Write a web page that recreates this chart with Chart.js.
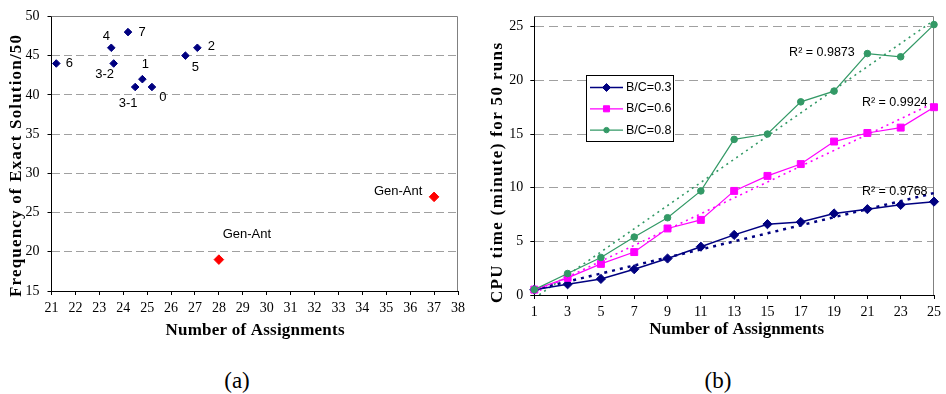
<!DOCTYPE html>
<html><head><meta charset="utf-8">
<script src="https://cdn.jsdelivr.net/npm/chart.js@4/dist/chart.umd.min.js"></script>
<style>
html,body{margin:0;padding:0;background:#fff;width:946px;height:394px;overflow:hidden}
#wa{position:absolute;left:0;top:0;width:470px;height:350px}
#wb{position:absolute;left:470px;top:0;width:476px;height:350px}
.cap{position:absolute;top:366px;font-family:"Liberation Serif","Times New Roman",serif;font-size:23px;line-height:30px;width:60px;text-align:center;color:#000}
</style></head><body>
<div id="wa"><canvas id="ca" width="470" height="350"></canvas></div>
<div id="wb"><canvas id="cb" width="476" height="350"></canvas></div>
<div class="cap" style="left:207px">(a)</div>
<div class="cap" style="left:688px">(b)</div>
<script>
// ---------- DATA: chart (a) ----------
const aNames  = ['0', '1', '2', '3-1', '3-2', '4', '5', '6', '7'];
const aAssign = [25.2, 24.8, 27.1, 24.5, 23.6, 23.5, 26.6, 21.2, 24.2];
const aFreq   = [41, 42, 46, 41, 44, 46, 45, 44, 48];
const genNames  = ['Gen-Ant', 'Gen-Ant'];
const genAssign = [28, 37];
const genFreq   = [19, 27];
const aXTicks = [21,22,23,24,25,26,27,28,29,30,31,32,33,34,35,36,37,38];
const aYTicks = [15,20,25,30,35,40,45,50];
const aXTitle = 'Number of Assignments';
const aYTitle = 'Frequency of Exact Solution/50';

// ---------- DATA: chart (b) ----------
const bX   = [1,3,5,7,9,11,13,15,17,19,21,23,25];
const b03  = [0.5, 1.0, 1.5, 2.4, 3.4, 4.5, 5.6, 6.6, 6.8, 7.6, 8.0, 8.4, 8.7];
const b06  = [0.5, 1.6, 2.9, 4.0, 6.2, 7.0, 9.7, 11.1, 12.2, 14.3, 15.1, 15.6, 17.5];
const b08  = [0.5, 2.0, 3.5, 5.4, 7.2, 9.7, 14.5, 15.0, 18.0, 19.0, 22.5, 22.2, 25.2];
const bTrendX  = [1, 25];
const bTrend03 = [0.5, 9.5];
const bTrend06 = [0.2, 17.9];
const bTrend08 = [-0.3, 25.6];
const bNames = ['B/C=0.3', 'B/C=0.6', 'B/C=0.8'];
const bR2    = ['R\u00B2 = 0.9768', 'R\u00B2 = 0.9924', 'R\u00B2 = 0.9873'];
const bYTicks = [0,5,10,15,20,25];
const bXTitle = 'Number of Assignments';
const bYTitle = 'CPU time (minute) for 50 runs';

// ---------- LAYOUT / STYLE (not data) ----------
const SERIF = '"Liberation Serif","Times New Roman",serif';
const SANS  = '"Liberation Sans",Arial,sans-serif';
const labelOffA = {'0':[11,10],'1':[3,-15],'2':[14,-1],'3-1':[-7,16],'3-2':[-9,11],'4':[-5,-11],'5':[10,12],'6':[13,0],'7':[14,0]};
const genOffA = [[28,-25.5],[-36,-5.5]];
const r2Pos = [{x:20.67,y:9.6},{x:20.67,y:17.94},{x:16.3,y:22.6}];
const colsB = ['#000080', '#ff00ff', '#339966'];
const stylesB = ['rectRot', 'rect', 'circle'];
const radiiB = [4.6, 4.9, 3.3];

function fitText(ctx, text, cx, cy, rot, font, target) {
  ctx.save();
  ctx.font = font;
  ctx.letterSpacing = '0px';
  const w = ctx.measureText(text).width;
  let ls = (target - w) / (text.length - 1);
  if (!(ls > 0)) ls = 0;
  ctx.letterSpacing = ls + 'px';
  ctx.translate(cx, cy);
  ctx.rotate(rot);
  ctx.textAlign = 'center';
  ctx.textBaseline = 'middle';
  ctx.fillStyle = '#000';
  ctx.fillText(text, ls / 2, 0);
  ctx.restore();
}
function plotBorder(chart) {
  const {ctx, chartArea: a} = chart;
  ctx.save();
  ctx.strokeStyle = '#808080';
  ctx.lineWidth = 1;
  ctx.beginPath();
  const t = Math.round(a.top) + 0.5, r = Math.round(a.right) - 0.5;
  ctx.moveTo(a.left, t); ctx.lineTo(r, t); ctx.lineTo(r, a.bottom);
  ctx.stroke();
  ctx.restore();
}
const tickSet = arr => s => { s.ticks = arr.map(v => ({value: v})); };

// ---------- CHART (a) ----------
const plugA = {
  id: 'plugA',
  beforeDatasetsDraw(chart) { plotBorder(chart); },
  afterDatasetsDraw(chart) {
    const {ctx} = chart, xs = chart.scales.x, ys = chart.scales.y;
    ctx.save();
    ctx.font = '13px ' + SANS;
    ctx.fillStyle = '#000';
    ctx.textAlign = 'center';
    ctx.textBaseline = 'middle';
    aNames.forEach((n, i) => {
      const o = labelOffA[n];
      ctx.fillText(n, xs.getPixelForValue(aAssign[i]) + o[0], ys.getPixelForValue(aFreq[i]) + o[1]);
    });
    genNames.forEach((n, i) => {
      const o = genOffA[i];
      ctx.fillText(n, xs.getPixelForValue(genAssign[i]) + o[0], ys.getPixelForValue(genFreq[i]) + o[1]);
    });
    ctx.restore();
  },
  afterDraw(chart) {
    const {ctx} = chart;
    fitText(ctx, aYTitle, 16.7, 166, -Math.PI / 2, 'bold 17px ' + SERIF, 262);
    fitText(ctx, aXTitle, 255, 331, 0, 'bold 17px ' + SERIF, 179);
  }
};

new Chart(document.getElementById('ca'), {
  type: 'scatter',
  data: {
    datasets: [
      { label: 'runs', data: aAssign.map((x, i) => ({x: x, y: aFreq[i]})),
        pointStyle: 'rectRot', pointRadius: 3.8, borderWidth: 1,
        backgroundColor: '#000080', borderColor: '#000080' },
      { label: 'Gen-Ant', data: genAssign.map((x, i) => ({x: x, y: genFreq[i]})),
        pointStyle: 'rectRot', pointRadius: 4.8, borderWidth: 1,
        backgroundColor: '#ff0000', borderColor: '#ff0000' }
    ]
  },
  options: {
    responsive: false, animation: false, devicePixelRatio: 1,
    layout: {padding: {top: 15, right: 8.5, left: 0, bottom: 0}},
    plugins: {legend: {display: false}, tooltip: {enabled: false}},
    scales: {
      x: { type: 'linear', min: 21, max: 38,
        afterBuildTicks: tickSet(aXTicks), afterFit: s => { s.height = 59; },
        grid: {drawOnChartArea: false, drawTicks: true, tickLength: 4, tickColor: '#000'},
        border: {color: '#000', width: 1},
        ticks: {color: '#000', font: {family: SERIF, size: 14}, padding: 5, maxRotation: 0, autoSkip: false}
      },
      y: { type: 'linear', min: 15, max: 50,
        afterBuildTicks: tickSet(aYTicks), afterFit: s => { s.width = 51.5; },
        grid: {color: '#a0a0a0', tickLength: 4, tickColor: '#000'},
        border: {color: '#000', width: 1, dash: [8, 4]},
        ticks: {color: '#000', font: {family: SERIF, size: 14}, padding: 8}
      }
    }
  },
  plugins: [plugA]
});

// ---------- CHART (b) ----------
const plugB = {
  id: 'plugB',
  beforeDatasetsDraw(chart) { plotBorder(chart); },
  afterDatasetsDraw(chart) {
    const {ctx} = chart, xs = chart.scales.x, ys = chart.scales.y;
    ctx.save();
    ctx.font = '12.5px ' + SANS;
    ctx.fillStyle = '#000';
    ctx.textAlign = 'left';
    ctx.textBaseline = 'middle';
    bR2.forEach((t, i) => {
      ctx.fillText(t, xs.getPixelForValue(r2Pos[i].x), ys.getPixelForValue(r2Pos[i].y));
    });
    // legend box
    const L = 116.5, T = 75.5, R = 203.5, B = 141.5;
    ctx.fillStyle = '#fff';
    ctx.fillRect(L, T, R - L, B - T);
    ctx.strokeStyle = '#000';
    ctx.lineWidth = 1;
    ctx.strokeRect(L, T, R - L, B - T);
    bNames.forEach((n, i) => {
      const y = 87.5 + i * 21.3;
      ctx.strokeStyle = colsB[i];
      ctx.fillStyle = colsB[i];
      ctx.lineWidth = i === 0 ? 1.5 : 1.2;
      ctx.beginPath(); ctx.moveTo(120, y); ctx.lineTo(153, y); ctx.stroke();
      ctx.lineWidth = 1;
      Chart.helpers.drawPoint(ctx, {pointStyle: stylesB[i], radius: radiiB[i] - 0.6, rotation: 0, borderWidth: 1}, 136.5, y);
      ctx.fillStyle = '#000';
      ctx.fillText(n, 156, y);
    });
    ctx.restore();
  },
  afterDraw(chart) {
    const {ctx} = chart;
    fitText(ctx, bYTitle, 27.3, 173, -Math.PI / 2, 'bold 17px ' + SERIF, 260);
    fitText(ctx, bXTitle, 266.7, 330, 0, 'bold 17px ' + SERIF, 167);
  }
};

const seriesB = [b03, b06, b08];
const trendsB = [bTrend03, bTrend06, bTrend08];
const trendDash = [[3, 5], [2, 4], [2, 4]];
const trendW = [2.5, 1.6, 1.6];
const dsB = [];
seriesB.forEach((s, i) => {
  dsB.push({
    label: bNames[i], data: bX.map((x, j) => ({x: x, y: s[j]})),
    borderColor: colsB[i], backgroundColor: colsB[i], borderWidth: i === 0 ? 1.5 : 1.2,
    pointStyle: stylesB[i], pointRadius: radiiB[i], pointBorderWidth: 1,
    showLine: true, fill: false, tension: 0, clip: false, order: 3 - i
  });
});
trendsB.forEach((t, i) => {
  dsB.push({
    label: 'trend ' + bNames[i], data: bTrendX.map((x, j) => ({x: x, y: t[j]})),
    borderColor: colsB[i], borderWidth: trendW[i], borderDash: trendDash[i],
    pointRadius: 0, showLine: true, fill: false, order: 10
  });
});

new Chart(document.getElementById('cb'), {
  type: 'scatter',
  data: {datasets: dsB},
  options: {
    responsive: false, animation: false, devicePixelRatio: 1,
    layout: {padding: {top: 16, right: 6, left: 0, bottom: 0}},
    plugins: {legend: {display: false}, tooltip: {enabled: false}},
    scales: {
      x: { type: 'linear', min: 1, max: 25,
        afterBuildTicks: tickSet(bX), afterFit: s => { s.height = 55; },
        grid: {drawOnChartArea: false, drawTicks: true, tickLength: 4, tickColor: '#000'},
        border: {color: '#000', width: 1},
        ticks: {color: '#000', font: {family: SERIF, size: 14}, padding: 5, maxRotation: 0, autoSkip: false}
      },
      y: { type: 'linear', min: 0, max: 26,
        afterBuildTicks: tickSet(bYTicks), afterFit: s => { s.width = 64.3; },
        grid: {color: '#a0a0a0', tickLength: 4, tickColor: '#000'},
        border: {color: '#000', width: 1, dash: [9, 5]},
        ticks: {color: '#000', font: {family: SERIF, size: 14}, padding: 7}
      }
    }
  },
  plugins: [plugB]
});
</script>
</body></html>
